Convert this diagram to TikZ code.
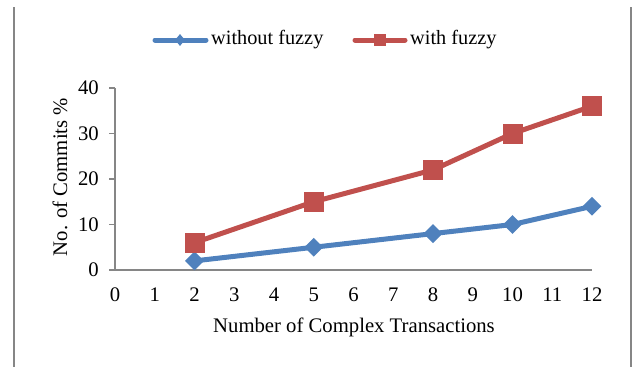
\documentclass[tikz,border=0pt]{standalone}
\usepackage{fontspec}
\setmainfont{Liberation Serif}
\usetikzlibrary{shapes.geometric}
\definecolor{serblue}{HTML}{4F81BD}
\definecolor{serred}{HTML}{C0504D}
\definecolor{axgray}{HTML}{868686}
\begin{document}
\begin{tikzpicture}[x=1pt,y=-1pt,
  lbl/.style={inner sep=0pt,font=\fontsize{20.7}{24}\selectfont},
  leglbl/.style={inner sep=0pt,font=\fontsize{20.3}{24}\selectfont},
  axisline/.style={draw=axgray,line width=1.5pt},
  frameline/.style={draw=axgray,line width=1.2pt},
  blueline/.style={draw=serblue,line width=5pt,line cap=round,line join=round},
  redline/.style={draw=serred,line width=5pt,line cap=round,line join=round},
  bmark/.style={diamond,fill=serblue,inner sep=0pt,minimum width=19pt,minimum height=19pt},
  rmark/.style={rectangle,fill=serred,inner sep=0pt,minimum width=20pt,minimum height=20pt},
  bmarksmall/.style={diamond,fill=serblue,inner sep=0pt,minimum width=10pt,minimum height=12pt},
  rmarksmall/.style={rectangle,fill=serred,inner sep=0pt,minimum width=12pt,minimum height=12pt},
]
\useasboundingbox (0,0) rectangle (632,367);
% frame lines
\coordinate (fl1) at (14,7); \coordinate (fl2) at (14,367);
\coordinate (fr1) at (631,7); \coordinate (fr2) at (631,367);
\draw[frameline] (fl1) -- (fl2);
\draw[frameline] (fr1) -- (fr2);
% axes
\coordinate (o) at (115,270);
\coordinate (ytop) at (115,88);
\coordinate (xend) at (592,270);
\draw[axisline] (ytop) -- (o) -- (xend);
\foreach \v in {0,10,20,30,40}{
  \coordinate (yt\v) at (115,{270-4.55*\v});
  \coordinate (ytl\v) at (109,{270-4.55*\v});
  \draw[axisline] (ytl\v) -- (yt\v);
  \node[lbl,anchor=east] (yl\v) at (99,{270-4.55*\v}) {\v};
}
\foreach \v in {0,...,12}{
  \node[lbl] (xl\v) at ({115+39.75*\v},295) {\v};
}
\node[lbl,rotate=90] (ytitle) at (60,177) {No. of Commits \%};
\node[lbl] (xtitle) at (354,327) {Number of Complex Transactions};
% data coordinates
\foreach \n/\x/\y in {1/2/2,2/5/5,3/8/8,4/10/10,5/12/14}{
  \coordinate (b\n) at ({115+39.75*\x},{270-4.55*\y});
}
\foreach \n/\x/\y in {1/2/6,2/5/15,3/8/22,4/10/30,5/12/36}{
  \coordinate (r\n) at ({115+39.75*\x},{270-4.55*\y});
}
\draw[blueline] (b1) -- (b2) -- (b3) -- (b4) -- (b5);
\draw[redline] (r1) -- (r2) -- (r3) -- (r4) -- (r5);
\foreach \n in {1,...,5}{
  \node[bmark] (bm\n) at (b\n) {};
  \node[rmark] (rm\n) at (r\n) {};
}
% legend
\coordinate (lb1) at (155,40); \coordinate (lb2) at (206,40);
\draw[blueline] (lb1) -- (lb2);
\node[bmarksmall] (lbm) at (180,40) {};
\node[leglbl,anchor=west] (lbt) at (211,40) {without fuzzy};
\coordinate (lr1) at (355,40); \coordinate (lr2) at (405,40);
\draw[redline] (lr1) -- (lr2);
\node[rmarksmall] (lrm) at (380,40) {};
\node[leglbl,anchor=west] (lrt) at (410,40) {with fuzzy};
\end{tikzpicture}
\end{document}
